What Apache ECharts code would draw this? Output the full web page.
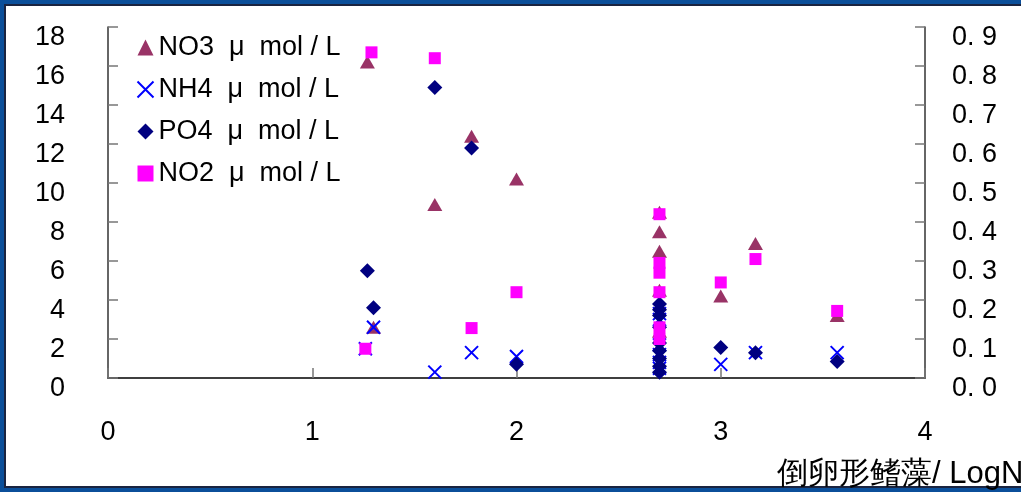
<!DOCTYPE html>
<html>
<head>
<meta charset="utf-8">
<script src="https://cdn.jsdelivr.net/npm/echarts@6/dist/echarts.min.js"></script>
<style>
    html, body { margin: 0; padding: 0; background: #0b4f9a; }
    #panel {
        position: absolute; left: 4px; top: 4px; width: 1017px; height: 484px;
        background: #fff; border-left: 2px solid #1a2440; border-top: 2px solid #1a2440;
        border-bottom: 2px solid #1a2440; box-sizing: border-box;
    }
    #main { position: absolute; left: 0; top: 0; width: 1021px; height: 492px; }
</style>
</head>
<body>
<div id="panel"></div>
<div id="main"></div>
<script>
    // [logN, value] pairs
    // NO3 and NH4 on the left axis, PO4 and NO2 on the right axis
    var no3 = [[1.27, 16.2], [1.30, 2.6], [1.60, 8.9], [1.78, 12.4], [2.00, 10.2],
        [2.70, 8.5], [2.70, 7.5], [2.70, 6.5], [2.70, 4.5], [2.70, 2.4],
        [3.00, 4.2], [3.17, 6.9], [3.57, 3.2]];
    var nh4 = [[1.26, 1.5], [1.30, 2.6], [1.60, 0.3], [1.78, 1.3], [2.00, 1.1],
        [2.70, 3.3], [2.70, 3.0], [2.70, 1.7], [2.70, 1.2], [2.70, 0.8], [2.70, 0.5],
        [3.00, 0.7], [3.17, 1.3], [3.57, 1.3]];
    var po4 = [[1.27, 0.275], [1.30, 0.18], [1.60, 0.745], [1.78, 0.59], [2.00, 0.035],
        [2.70, 0.19], [2.70, 0.175], [2.70, 0.16], [2.70, 0.13], [2.70, 0.09],
        [2.70, 0.07], [2.70, 0.05], [2.70, 0.03], [2.70, 0.015],
        [3.00, 0.078], [3.17, 0.065], [3.57, 0.042]];
    var no2 = [[1.26, 0.075], [1.29, 0.835], [1.60, 0.82], [1.78, 0.128], [2.00, 0.22],
        [2.70, 0.42], [2.70, 0.295], [2.70, 0.27], [2.70, 0.22], [2.70, 0.13], [2.70, 0.10],
        [3.00, 0.245], [3.17, 0.305], [3.57, 0.172]];

    var seriesNames = ['NO3  μ  mol / L', 'NH4  μ  mol / L', 'PO4  μ  mol / L', 'NO2  μ  mol / L'];
    var xTitle = '倒卵形鳍藻/ LogN';

    var font = 'Liberation Sans, Arial, sans-serif';
    var crossPath = 'path://M0,0L10,10M10,0L0,10';

    var chart = echarts.init(document.getElementById('main'));
    var option = {
        backgroundColor: 'transparent',
        animation: false,
        textStyle: { fontFamily: font },
        grid: { left: 108, right: 96, top: 27, bottom: 114 },
        legend: {
            orient: 'vertical',
            left: 130,
            top: 29,
            itemGap: 15,
            itemWidth: 16,
            itemHeight: 16,
            textStyle: { fontSize: 27, color: '#000', fontFamily: font },
            data: seriesNames
        },
        xAxis: {
            type: 'value',
            min: 0,
            max: 4,
            interval: 1,
            splitLine: { show: false },
            axisLine: { lineStyle: { color: '#000', width: 1.5 } },
            axisTick: { inside: true, length: 10, lineStyle: { color: '#777', width: 1.5 } },
            axisLabel: { margin: 41, fontSize: 27, color: '#000' }
        },
        yAxis: [{
            type: 'value',
            min: 0,
            max: 18,
            interval: 2,
            splitLine: { show: false },
            axisLine: { show: true, lineStyle: { color: '#333', width: 1.5 } },
            axisTick: { show: true, inside: true, length: 10, lineStyle: { color: '#777', width: 1.5 } },
            axisLabel: { margin: 43, fontSize: 27, color: '#000', verticalAlign: 'top', lineHeight: 22 }
        }, {
            type: 'value',
            min: 0,
            max: 0.9,
            interval: 0.1,
            position: 'right',
            splitLine: { show: false },
            axisLine: { show: true, lineStyle: { color: '#333', width: 1.5 } },
            axisTick: { show: true, inside: true, length: 10, lineStyle: { color: '#777', width: 1.5 } },
            axisLabel: {
                margin: 27, fontSize: 27, color: '#000', verticalAlign: 'top', lineHeight: 22,
                formatter: function (v) { return v.toFixed(1).replace('.', '. '); }
            }
        }],
        series: [{
            name: seriesNames[0],
            type: 'scatter',
            yAxisIndex: 0,
            symbol: 'triangle',
            symbolSize: [15, 13],
            itemStyle: { color: '#993366', opacity: 1 },
            data: no3
        }, {
            name: seriesNames[1],
            type: 'scatter',
            yAxisIndex: 0,
            symbol: crossPath,
            symbolSize: 13,
            itemStyle: { color: 'none', borderColor: '#0000ff', borderWidth: 2, opacity: 1 },
            data: nh4
        }, {
            name: seriesNames[2],
            type: 'scatter',
            yAxisIndex: 1,
            symbol: 'diamond',
            symbolSize: 15,
            itemStyle: { color: '#000080', opacity: 1 },
            data: po4
        }, {
            name: seriesNames[3],
            type: 'scatter',
            yAxisIndex: 1,
            symbol: 'rect',
            symbolSize: 12,
            itemStyle: { color: '#ff00ff', opacity: 1 },
            data: no2
        }],
        graphic: [{
            type: 'text',
            left: 777,
            top: 459,
            style: { text: xTitle, fontSize: 31, fill: '#000', fontFamily: font }
        }]
    };
    chart.setOption(option);
</script>
</body>
</html>
